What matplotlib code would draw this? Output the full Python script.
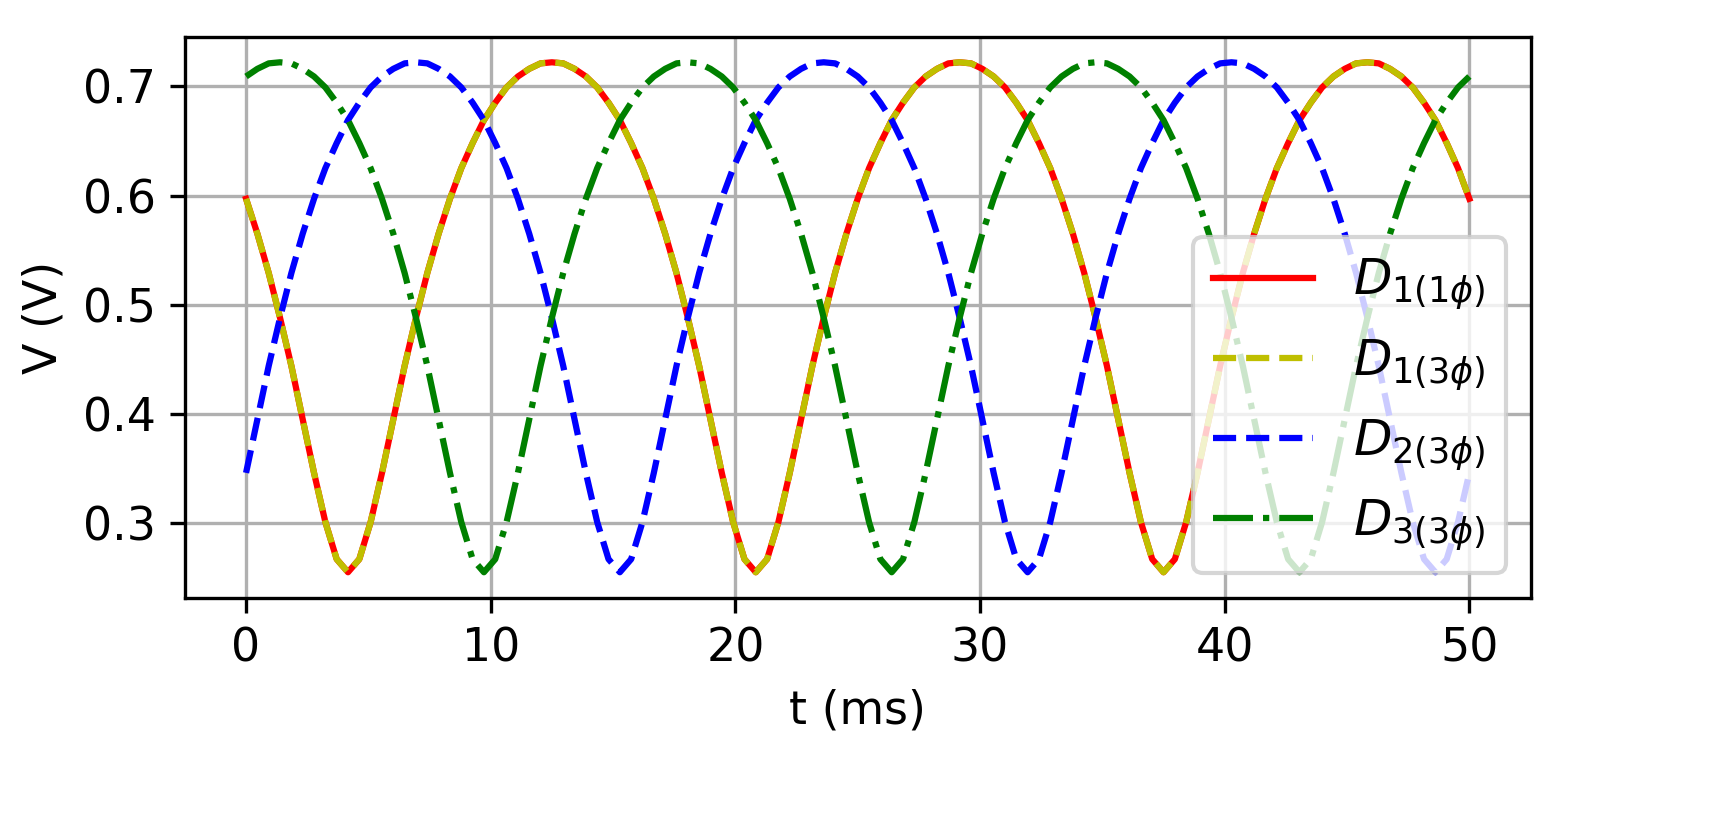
import matplotlib
matplotlib.use("Agg")
import matplotlib.pyplot as plt
import numpy as np

t_ms = np.linspace(0, 50, 109)

d1_1phi = [0.597,0.565,0.529,0.488,0.444,0.395,0.346,0.301,0.267,0.255,0.267,0.301,0.346,0.395,0.444,0.488,0.529,0.565,0.597,0.625,0.648,0.669,0.685,0.699,0.709,0.716,0.721,
 0.722,0.721,0.716,0.709,0.699,0.685,0.669,0.648,0.625,0.597,0.565,0.529,0.488,0.444,0.395,0.346,0.301,0.267,0.255,0.267,0.301,0.346,0.395,0.444,0.488,0.529,0.565,0.597,0.625,0.648,0.669,0.685,0.699,0.709,0.716,0.721,
 0.722,0.721,0.716,0.709,0.699,0.685,0.669,0.648,0.625,0.597,0.565,0.529,0.488,0.444,0.395,0.346,0.301,0.267,0.255,0.267,0.301,0.346,0.395,0.444,0.488,0.529,0.565,0.597,0.625,0.648,0.669,0.685,0.699,0.709,0.716,0.721,
 0.722,0.721,0.716,0.709,0.699,0.685,0.669,0.648,0.625,0.597]
d1_3phi = list(d1_1phi)
d2_3phi = [0.346,0.395,0.444,0.488,0.529,0.565,0.597,0.625,0.648,0.669,0.685,0.699,0.709,0.716,0.721,
 0.722,0.721,0.716,0.709,0.699,0.685,0.669,0.648,0.625,0.597,0.565,0.529,0.488,0.444,0.395,0.346,0.301,0.267,0.255,0.267,0.301,0.346,0.395,0.444,0.488,0.529,0.565,0.597,0.625,0.648,0.669,0.685,0.699,0.709,0.716,0.721,
 0.722,0.721,0.716,0.709,0.699,0.685,0.669,0.648,0.625,0.597,0.565,0.529,0.488,0.444,0.395,0.346,0.301,0.267,0.255,0.267,0.301,0.346,0.395,0.444,0.488,0.529,0.565,0.597,0.625,0.648,0.669,0.685,0.699,0.709,0.716,0.721,
 0.722,0.721,0.716,0.709,0.699,0.685,0.669,0.648,0.625,0.597,0.565,0.529,0.488,0.444,0.395,0.346,0.301,0.267,0.255,0.267,0.301,0.346]
d3_3phi = [0.709,0.716,0.721,
 0.722,0.721,0.716,0.709,0.699,0.685,0.669,0.648,0.625,0.597,0.565,0.529,0.488,0.444,0.395,0.346,0.301,0.267,0.255,0.267,0.301,0.346,0.395,0.444,0.488,0.529,0.565,0.597,0.625,0.648,0.669,0.685,0.699,0.709,0.716,0.721,
 0.722,0.721,0.716,0.709,0.699,0.685,0.669,0.648,0.625,0.597,0.565,0.529,0.488,0.444,0.395,0.346,0.301,0.267,0.255,0.267,0.301,0.346,0.395,0.444,0.488,0.529,0.565,0.597,0.625,0.648,0.669,0.685,0.699,0.709,0.716,0.721,
 0.722,0.721,0.716,0.709,0.699,0.685,0.669,0.648,0.625,0.597,0.565,0.529,0.488,0.444,0.395,0.346,0.301,0.267,0.255,0.267,0.301,0.346,0.395,0.444,0.488,0.529,0.565,0.597,0.625,0.648,0.669,0.685,0.699,0.709]

labels = [r'$D_{1(1\phi)}$', r'$D_{1(3\phi)}$', r'$D_{2(3\phi)}$', r'$D_{3(3\phi)}$']

plt.rcParams['font.size'] = 11
fig, ax = plt.subplots(figsize=(1712/300, 836/300), dpi=300)
ax.plot(t_ms, d1_1phi, 'r-', lw=1.5, label=labels[0])
ax.plot(t_ms, d1_3phi, 'y--', lw=1.5, label=labels[1])
ax.plot(t_ms, d2_3phi, 'b--', lw=1.5, label=labels[2])
ax.plot(t_ms, d3_3phi, 'g-.', lw=1.5, label=labels[3])
ax.set_yticks([0.3, 0.4, 0.5, 0.6, 0.7])
ax.set_xlabel('t (ms)')
ax.set_ylabel('V (V)')
ax.grid(True)
ax.legend(loc='lower right', fontsize=12)
fig.subplots_adjust(left=0.108, right=0.894, top=0.956, bottom=0.285)
fig.savefig('out.png', dpi=300)
